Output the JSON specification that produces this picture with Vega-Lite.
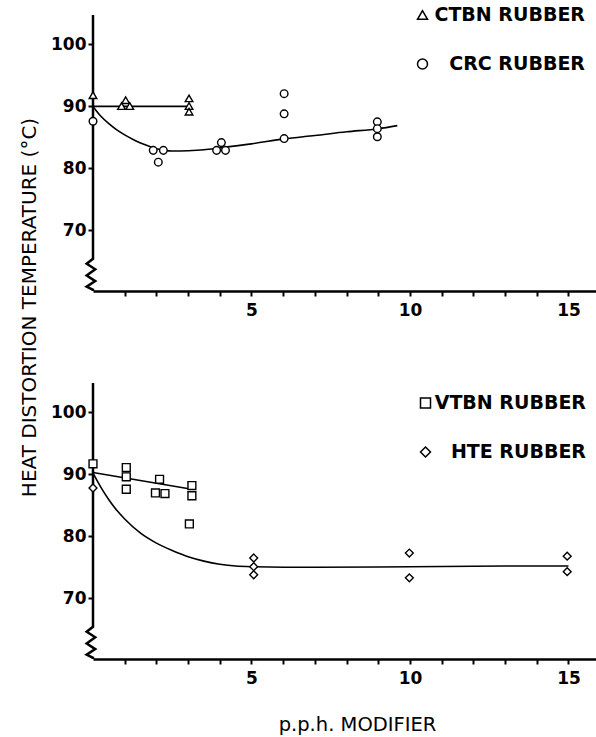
{
  "$schema": "https://vega.github.io/schema/vega-lite/v6.json",
  "background": "white",
  "padding": {"left": 19, "top": 5, "right": 0, "bottom": 5},
  "bounds": "flush",
  "spacing": 92,
  "config": {
    "view": {"stroke": null},
    "font": "DejaVu Sans",
    "axis": {
      "grid": false,
      "domainColor": "black",
      "domainWidth": 2.5,
      "tickColor": "black",
      "tickWidth": 2,
      "tickSize": 5,
      "labelColor": "black",
      "labelFont": "DejaVu Sans",
      "labelFontWeight": "bold",
      "labelFontSize": 17,
      "titleColor": "black",
      "titleFont": "DejaVu Sans",
      "titleFontWeight": "normal",
      "titleFontSize": 20
    }
  },
  "datasets": {
    "axisline": [
      {"o": 1, "x": 0, "y": 104.75},
      {"o": 2, "x": 0, "y": 65.4},
      {"o": 3, "x": -0.2, "y": 64.6},
      {"o": 4, "x": 0.07, "y": 63.7},
      {"o": 5, "x": -0.2, "y": 62.7},
      {"o": 6, "x": 0.07, "y": 61.8},
      {"o": 7, "x": -0.2, "y": 60.9},
      {"o": 8, "x": 0, "y": 60.4},
      {"o": 9, "x": 0, "y": 60.2}
    ],
    "topCurves": [
      {"series": "CTBN", "x": 0, "y": 90.0},
      {"series": "CTBN", "x": 3.03, "y": 90.0},
      {"series": "CRC", "x": 0, "y": 90.0},
      {"series": "CRC", "x": 0.25, "y": 88.4},
      {"series": "CRC", "x": 0.5, "y": 87.2},
      {"series": "CRC", "x": 0.75, "y": 86.2},
      {"series": "CRC", "x": 1.0, "y": 85.4},
      {"series": "CRC", "x": 1.25, "y": 84.7},
      {"series": "CRC", "x": 1.5, "y": 84.1},
      {"series": "CRC", "x": 1.75, "y": 83.6},
      {"series": "CRC", "x": 2.0, "y": 83.15},
      {"series": "CRC", "x": 2.25, "y": 82.9},
      {"series": "CRC", "x": 2.5, "y": 82.8},
      {"series": "CRC", "x": 3.0, "y": 82.85},
      {"series": "CRC", "x": 3.5, "y": 83.0},
      {"series": "CRC", "x": 4.0, "y": 83.3},
      {"series": "CRC", "x": 5.0, "y": 83.95},
      {"series": "CRC", "x": 6.03, "y": 84.75},
      {"series": "CRC", "x": 7.0, "y": 85.3},
      {"series": "CRC", "x": 8.0, "y": 85.9},
      {"series": "CRC", "x": 9.0, "y": 86.4},
      {"series": "CRC", "x": 9.6, "y": 86.9}
    ],
    "topPoints": [
      {"rubber": "CTBN RUBBER", "x": 0, "y": 91.8},
      {"rubber": "CTBN RUBBER", "x": 0.9, "y": 90.05},
      {"rubber": "CTBN RUBBER", "x": 1.03, "y": 91.0},
      {"rubber": "CTBN RUBBER", "x": 1.16, "y": 90.05},
      {"rubber": "CTBN RUBBER", "x": 3.03, "y": 91.3},
      {"rubber": "CTBN RUBBER", "x": 3.03, "y": 90.05},
      {"rubber": "CTBN RUBBER", "x": 3.03, "y": 89.15},
      {"rubber": "CRC RUBBER", "x": 0, "y": 87.6},
      {"rubber": "CRC RUBBER", "x": 1.9, "y": 82.9},
      {"rubber": "CRC RUBBER", "x": 2.22, "y": 82.9},
      {"rubber": "CRC RUBBER", "x": 2.06, "y": 81.0},
      {"rubber": "CRC RUBBER", "x": 3.9, "y": 82.9},
      {"rubber": "CRC RUBBER", "x": 4.05, "y": 84.15},
      {"rubber": "CRC RUBBER", "x": 4.18, "y": 82.9},
      {"rubber": "CRC RUBBER", "x": 6.03, "y": 92.05},
      {"rubber": "CRC RUBBER", "x": 6.03, "y": 88.8},
      {"rubber": "CRC RUBBER", "x": 6.03, "y": 84.8},
      {"rubber": "CRC RUBBER", "x": 8.97, "y": 87.5},
      {"rubber": "CRC RUBBER", "x": 8.97, "y": 86.4},
      {"rubber": "CRC RUBBER", "x": 8.97, "y": 85.1}
    ],
    "bottomCurves": [
      {"series": "VTBN", "x": 0, "y": 90.3},
      {"series": "VTBN", "x": 3.12, "y": 87.6},
      {"series": "HTE", "x": 0, "y": 90.2},
      {"series": "HTE", "x": 0.25, "y": 87.9},
      {"series": "HTE", "x": 0.5, "y": 85.9},
      {"series": "HTE", "x": 0.75, "y": 84.2},
      {"series": "HTE", "x": 1.0, "y": 82.8},
      {"series": "HTE", "x": 1.5, "y": 80.5},
      {"series": "HTE", "x": 2.0, "y": 78.9},
      {"series": "HTE", "x": 2.5, "y": 77.7},
      {"series": "HTE", "x": 3.0, "y": 76.7},
      {"series": "HTE", "x": 3.5, "y": 76.0},
      {"series": "HTE", "x": 4.0, "y": 75.5},
      {"series": "HTE", "x": 4.5, "y": 75.2},
      {"series": "HTE", "x": 5.0, "y": 75.1},
      {"series": "HTE", "x": 7.0, "y": 75.0},
      {"series": "HTE", "x": 10.0, "y": 75.1},
      {"series": "HTE", "x": 13.0, "y": 75.2},
      {"series": "HTE", "x": 15.0, "y": 75.2}
    ],
    "bottomPoints": [
      {"rubber": "VTBN RUBBER", "x": 0, "y": 91.7},
      {"rubber": "VTBN RUBBER", "x": 1.05, "y": 91.1},
      {"rubber": "VTBN RUBBER", "x": 1.05, "y": 89.6},
      {"rubber": "VTBN RUBBER", "x": 1.05, "y": 87.6},
      {"rubber": "VTBN RUBBER", "x": 1.97, "y": 87.0},
      {"rubber": "VTBN RUBBER", "x": 2.1, "y": 89.2},
      {"rubber": "VTBN RUBBER", "x": 2.27, "y": 86.9},
      {"rubber": "VTBN RUBBER", "x": 3.12, "y": 88.2},
      {"rubber": "VTBN RUBBER", "x": 3.12, "y": 86.55},
      {"rubber": "VTBN RUBBER", "x": 3.04, "y": 82.0},
      {"rubber": "HTE RUBBER", "x": 0, "y": 87.8},
      {"rubber": "HTE RUBBER", "x": 5.07, "y": 76.5},
      {"rubber": "HTE RUBBER", "x": 5.07, "y": 75.1},
      {"rubber": "HTE RUBBER", "x": 5.07, "y": 73.8},
      {"rubber": "HTE RUBBER", "x": 9.98, "y": 77.3},
      {"rubber": "HTE RUBBER", "x": 9.98, "y": 73.3},
      {"rubber": "HTE RUBBER", "x": 14.96, "y": 76.8},
      {"rubber": "HTE RUBBER", "x": 14.96, "y": 74.3}
    ]
  },
  "vconcat": [
    {
      "width": 504,
      "height": 276,
      "encoding": {
        "x": {
          "field": "x", "type": "quantitative",
          "scale": {"domain": [0, 15.9], "nice": false, "zero": false},
          "axis": {
            "title": null,
            "values": [1,2,3,4,5,6,7,8,9,10,11,12,13,14,15],
            "labelExpr": "datum.value % 5 === 0 ? datum.label : ''",
            "labelOverlap": false,
            "labelPadding": 6
          }
        },
        "y": {
          "field": "y", "type": "quantitative",
          "scale": {"domain": [60.2, 104.75], "nice": false, "zero": false},
          "axis": {
            "domain": false,
            "values": [70, 80, 90, 100],
            "labelPadding": 2,
            "title": "HEAT DISTORTION TEMPERATURE (°C)",
            "titleAngle": 270,
            "titleX": -64,
            "titleY": 292,
            "titleAlign": "center",
            "titleBaseline": "middle"
          }
        }
      },
      "layer": [
        {
          "data": {"name": "axisline"},
          "mark": {"type": "line", "color": "black", "strokeWidth": 2.5},
          "encoding": {"order": {"field": "o", "type": "quantitative"}}
        },
        {
          "data": {"name": "topCurves"},
          "mark": {"type": "line", "color": "black", "strokeWidth": 1.6, "interpolate": "monotone"},
          "encoding": {"detail": {"field": "series", "type": "nominal"}}
        },
        {
          "data": {"name": "topPoints"},
          "mark": {"type": "point", "fill": "white", "stroke": "black", "strokeWidth": 1.4, "size": 58, "opacity": 1},
          "encoding": {
            "shape": {
              "field": "rubber", "type": "nominal",
              "scale": {"domain": ["CTBN RUBBER", "CRC RUBBER"], "range": ["triangle-up", "circle"]},
              "legend": {
                "orient": "none",
                "legendX": 320,
                "legendY": -9.5,
                "title": null,
                "labelAlign": "right",
                "labelOffset": 153,
                "labelLimit": 260,
                "rowPadding": 29,
                "labelFont": "DejaVu Sans",
                "labelFontSize": 19,
                "labelFontWeight": "bold",
                "labelColor": "black"
              }
            }
          }
        }
      ]
    },
    {
      "width": 504,
      "height": 276,
      "encoding": {
        "x": {
          "field": "x", "type": "quantitative",
          "scale": {"domain": [0, 15.9], "nice": false, "zero": false},
          "axis": {
            "title": "p.p.h. MODIFIER",
            "titleFontSize": 19.5,
            "titleX": 264,
            "titleY": 65,
            "titleAlign": "center",
            "titleBaseline": "middle",
            "values": [1,2,3,4,5,6,7,8,9,10,11,12,13,14,15],
            "labelExpr": "datum.value % 5 === 0 ? datum.label : ''",
            "labelOverlap": false,
            "labelPadding": 6
          }
        },
        "y": {
          "field": "y", "type": "quantitative",
          "scale": {"domain": [60.2, 104.75], "nice": false, "zero": false},
          "axis": {
            "domain": false,
            "values": [70, 80, 90, 100],
            "labelPadding": 2,
            "title": null
          }
        }
      },
      "layer": [
        {
          "data": {"name": "axisline"},
          "mark": {"type": "line", "color": "black", "strokeWidth": 2.5},
          "encoding": {"order": {"field": "o", "type": "quantitative"}}
        },
        {
          "data": {"name": "bottomCurves"},
          "mark": {"type": "line", "color": "black", "strokeWidth": 1.6, "interpolate": "monotone"},
          "encoding": {"detail": {"field": "series", "type": "nominal"}}
        },
        {
          "data": {"name": "bottomPoints"},
          "mark": {"type": "point", "fill": "white", "stroke": "black", "strokeWidth": 1.4, "size": 62, "opacity": 1},
          "encoding": {
            "shape": {
              "field": "rubber", "type": "nominal",
              "scale": {"domain": ["VTBN RUBBER", "HTE RUBBER"], "range": ["square", "diamond"]},
              "legend": {
                "orient": "none",
                "legendX": 323,
                "legendY": 10.5,
                "title": null,
                "labelAlign": "right",
                "labelOffset": 151,
                "labelLimit": 260,
                "rowPadding": 29,
                "labelFont": "DejaVu Sans",
                "labelFontSize": 19,
                "labelFontWeight": "bold",
                "labelColor": "black"
              }
            }
          }
        }
      ]
    }
  ],
  "resolve": {
    "scale": {"shape": "independent"},
    "legend": {"shape": "independent"}
  }
}
